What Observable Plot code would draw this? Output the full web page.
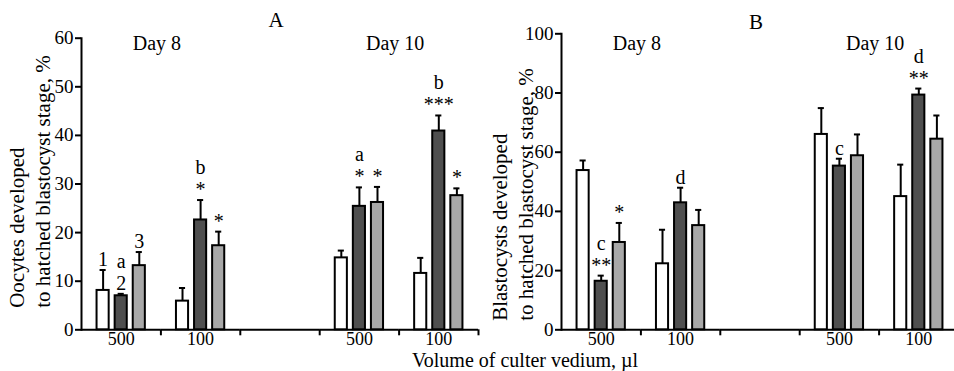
<!DOCTYPE html>
<html><head><meta charset="utf-8">
<script src="https://cdn.jsdelivr.net/npm/d3@7"></script>
<script src="https://cdn.jsdelivr.net/npm/@observablehq/plot@0.6"></script>
<style>
html,body{margin:0;padding:0;background:#fff;}
#chart{position:relative;width:954px;height:371px;overflow:hidden;font-family:"Liberation Serif","DejaVu Serif",serif;color:#000;}
#chart svg{position:absolute;top:0;}
.t{position:absolute;white-space:nowrap;line-height:0.9;transform:translate(-50%,-50%);}
</style></head><body><div id="chart"></div>
<script>
// ---- categories ----
const slots = ["D8-500", "D8-100", "gap", "D10-500", "D10-100"];
const slotLabels = ["500", "100", "", "500", "100"];
const dataSlots = ["D8-500", "D8-100", "D10-500", "D10-100"];
const series = ["1", "2", "3"];
const seriesFills = ["#ffffff", "#4f4f4f", "#a8a8a8"];
const dayLabels = ["Day 8", "Day 10"];
const daySlots = ["D8-500", "D10-500"];

// ---- panel A: oocytes developed to hatched blastocyst stage, % ----
const aWhite = [8.1, 5.9, 14.8, 11.6];
const aWhiteErr = [4.2, 2.7, 1.5, 3.2];
const aDark = [7.0, 22.6, 25.4, 40.9];
const aDarkErr = [0.4, 4.1, 3.9, 3.2];
const aLight = [13.2, 17.3, 26.2, 27.6];
const aLightErr = [2.8, 2.9, 3.2, 1.5];
const aNoteSlots = ["D8-500", "D8-500", "D8-500", "D8-100", "D8-100", "D10-500", "D10-500", "D10-100", "D10-100"];
const aNoteSeries = ["1", "2", "3", "2", "3", "2", "3", "2", "3"];
const aNoteTexts = ["1", "a\n2", "3", "b\n*", "*", "a\n*", "*", "b\n***", "*"];

// ---- panel B: blastocysts developed to hatched blastocyst stage, % ----
const bWhite = [53.8, 22.3, 66.0, 45.0];
const bWhiteErr = [3.4, 11.5, 8.9, 10.8];
const bDark = [16.4, 42.9, 55.3, 79.3];
const bDarkErr = [1.9, 5.1, 2.5, 2.2];
const bLight = [29.5, 35.2, 58.8, 64.4];
const bLightErr = [6.6, 5.3, 7.2, 8.0];
const bNoteSlots = ["D8-500", "D8-500", "D8-100", "D10-500", "D10-100"];
const bNoteSeries = ["2", "3", "2", "2", "2"];
const bNoteTexts = ["c\n**", "*", "d", "c", "d\n**"];

const FONT = "'Liberation Serif', 'DejaVu Serif', serif";
const W = 480, H = 371, ML = 81, MR = 2, MB = H - 329.3;

function rowsFrom(means, errs) {
  return series.flatMap((s, k) => dataSlots.map((slot, i) => ({
    slot, series: s, value: means[k][i], top: means[k][i] + errs[k][i]
  })));
}

function panel({rows, noteSlots, noteSeries, noteTexts, yMax, yStep, yLabel, marginTop, labelDx, labelDy}) {
  const slotW = (W - ML - MR) / slots.length;
  const topOf = new Map(rows.map(r => [r.slot + "|" + r.series, r.top]));
  const notes = noteTexts.map((text, i) => ({
    slot: noteSlots[i], series: noteSeries[i], text,
    top: topOf.get(noteSlots[i] + "|" + noteSeries[i])
  }));
  const days = dayLabels.map((text, i) => ({slot: daySlots[i], text}));
  return Plot.plot({
    width: W, height: H,
    marginLeft: ML, marginRight: MR, marginTop, marginBottom: MB,
    style: {fontFamily: FONT, fontSize: "20px", color: "#000", background: "transparent", overflow: "visible"},
    fx: {domain: slots, padding: 0, round: false, axis: null, label: null},
    x: {domain: series, paddingInner: 0.33, paddingOuter: 0.86, round: false, axis: null},
    y: {domain: [0, yMax], axis: null},
    color: {domain: series, range: seriesFills},
    marks: [
      // baseline drawn in every slot (also keeps the empty gap slot alive)
      Plot.ruleY(slots, {fx: d => d, y: () => 0, stroke: "#000", strokeWidth: 2}),
      Plot.barY(rows, {fx: "slot", x: "series", y: "value", fill: "series", stroke: "#000", strokeWidth: 2}),
      Plot.ruleX(rows, {fx: "slot", x: "series", y1: "value", y2: "top", stroke: "#000", strokeWidth: 2}),
      Plot.tickY(rows, {fx: "slot", x: "series", y: "top", insetLeft: 3, insetRight: 3, stroke: "#000", strokeWidth: 2}),
      Plot.text(notes, {fx: "slot", x: "series", y: "top", text: "text", lineAnchor: "bottom", dy: -4, fontSize: 20, lineHeight: 1.1, fill: "#000"}),
      Plot.text(days, {fx: "slot", text: "text", frameAnchor: "top-right", lineAnchor: "top", textAnchor: "middle", dx: -4, dy: 35 - marginTop, fontSize: 20, fill: "#000"}),
      Plot.axisY({ticks: d3.range(0, yMax + 1, yStep), tickSize: 6, tickPadding: 2, fontSize: 19, label: null, strokeWidth: 2, fill: "#000"}),
      Plot.frame({anchor: "left", facetAnchor: "left", stroke: "#000", strokeWidth: 2}),
      Plot.axisFx({anchor: "bottom", tickSize: 0, tickPadding: 2.5, tickFormat: d => slotLabels[slots.indexOf(d)], fontSize: 18, label: null, fill: "#000"}),
      Plot.axisFx({anchor: "bottom", tickSize: 6, tickFormat: () => "", dx: slotW / 2, label: null, stroke: "#000", strokeWidth: 2}),
      Plot.text([{slot: slots[0], text: yLabel}], {fx: "slot", text: "text", frameAnchor: "bottom-left", rotate: -90, textAnchor: "start", lineAnchor: "middle", lineHeight: 1.2, dx: labelDx, dy: labelDy, fontSize: 21, fill: "#000"})
    ]
  });
}

const chart = document.getElementById("chart");

const svgA = panel({
  rows: rowsFrom([aWhite, aDark, aLight], [aWhiteErr, aDarkErr, aLightErr]),
  noteSlots: aNoteSlots, noteSeries: aNoteSeries, noteTexts: aNoteTexts,
  yMax: 60, yStep: 10,
  yLabel: "Oocytes developed\nto hatched blastocyst stage, %",
  marginTop: 37.7, labelDx: -52.5, labelDy: -22
});
svgA.style.left = "0px";
chart.appendChild(svgA);

const svgB = panel({
  rows: rowsFrom([bWhite, bDark, bLight], [bWhiteErr, bDarkErr, bLightErr]),
  noteSlots: bNoteSlots, noteSeries: bNoteSeries, noteTexts: bNoteTexts,
  yMax: 100, yStep: 20,
  yLabel: "Blastocysts developed\nto hatched blastocyst stage, %",
  marginTop: 33.3, labelDx: -49.5, labelDy: -9
});
svgB.style.left = "480px";
chart.appendChild(svgB);

function addText(text, x, y, size) {
  const d = document.createElement("div");
  d.className = "t";
  d.textContent = text;
  d.style.left = x + "px";
  d.style.top = y + "px";
  d.style.fontSize = size + "px";
  chart.appendChild(d);
}
addText("A", 276, 20, 21);
addText("B", 756, 22, 21);
addText("Volume of culter vedium, \u00b5l", 525, 359.8, 20);
</script></body></html>
